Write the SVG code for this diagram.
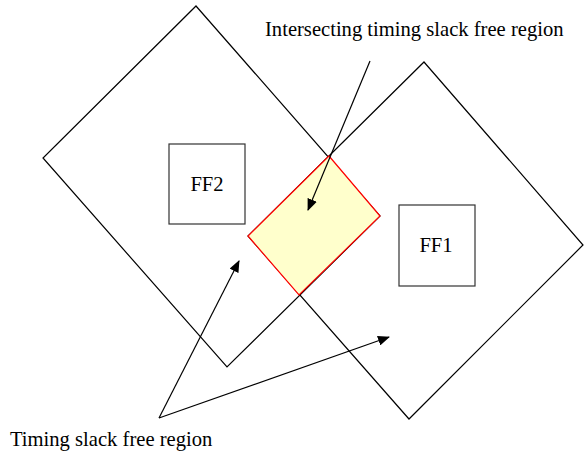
<svg xmlns="http://www.w3.org/2000/svg" width="584" height="455" viewBox="0 0 584 455">
<style>
.reg{fill:none;stroke:#000;stroke-width:1.2}
.ff{fill:#fff;stroke:#333;stroke-width:1.2}
.inter{fill:#ffffcc;stroke:#ff0000;stroke-width:1.2}
.lbl{font-family:"Liberation Serif","Times New Roman",serif;font-size:20.6px;fill:#000}
.conn{fill:none;stroke:#000;stroke-width:1.2;marker-end:url(#ah)}
</style>
<defs>
<marker id="ah" viewBox="0 0 12 10" refX="11" refY="5" markerWidth="12" markerHeight="10" markerUnits="userSpaceOnUse" orient="auto">
<path d="M0,0 L12,5 L0,10 Z" fill="#000"/>
</marker>
</defs>
<g id="region-ff2">
<polygon class="reg" points="196,6 380,216 227,367 43,158"/>
</g>
<g id="region-ff1">
<polygon class="reg" points="424,62 583,245 409,419 248,236"/>
</g>
<g id="intersection">
<polygon class="inter" points="329,156 380,216 299,295 248,236"/>
</g>
<g id="ff2">
<rect class="ff" x="169" y="144" width="76" height="80"/>
<text class="lbl" x="207" y="191" text-anchor="middle">FF2</text>
</g>
<g id="ff1">
<rect class="ff" x="399" y="205" width="76" height="81"/>
<text class="lbl" x="436" y="252" text-anchor="middle">FF1</text>
</g>
<g id="label-intersecting">
<text class="lbl" x="265" y="36">Intersecting timing slack free region</text>
</g>
<g id="label-timing">
<text class="lbl" x="10" y="446">Timing slack free region</text>
</g>
<g id="connectors">
<line class="conn" x1="370" y1="61" x2="308" y2="210"/>
<line class="conn" x1="159" y1="418" x2="239" y2="261"/>
<line class="conn" x1="159" y1="418" x2="389" y2="337"/>
</g>
</svg>
